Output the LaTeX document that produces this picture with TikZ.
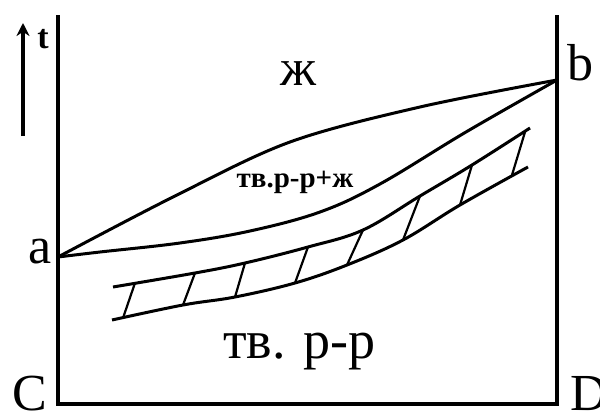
\documentclass[tikz,border=0pt]{standalone}
\usepackage{fontspec}
\setmainfont{Liberation Serif}
\usetikzlibrary{arrows.meta}

\begin{document}
\begin{tikzpicture}[
    x=0.5pt, y=-0.5pt,
    >={Stealth[length=6.5pt, width=6.5pt]},
    frame/.style={line width=2pt},
    curve/.style={line width=1.5pt, line join=round},
    hatch/.style={line width=1.1pt},
    big/.style={font=\fontsize{26}{30}\selectfont, inner sep=0pt, anchor=base},
    small/.style={font=\fontsize{14.5}{17}\selectfont\bfseries, inner sep=0pt, anchor=base}
]
    \useasboundingbox (0,0) rectangle (600,412);

    % Frame of the diagram
    \coordinate (ltop) at (58,15);
    \coordinate (rtop) at (557,15);
    \coordinate (C) at (58,404);
    \coordinate (D) at (557,404);
    \coordinate (a) at (58,257);
    \coordinate (b) at (557,80);
    \draw[frame] (ltop) -- (C) -- (D) -- (rtop);

    % Temperature arrow
    \coordinate (tlow) at (23,136);
    \coordinate (thigh) at (23,23);
    \draw[->, line width=2pt] (tlow) -- (thigh);
    \node[font=\fontsize{17}{20}\selectfont\bfseries, inner sep=0pt, anchor=base west] (tlabel) at (37,48) {t};

    % Liquidus and solidus
    \draw[curve] plot[smooth, tension=0.55] coordinates {(a) (175,196) (290,142) (420,107) (b)};
    \draw[curve] plot[smooth, tension=0.6] coordinates {(a) (100,252) (180,243) (250,231) (320,212) (380,184) (466,132) (b)};

    % Hatched band
    \draw[curve] plot[smooth, tension=0.6] coordinates {(113,287) (195,273) (245,263) (308,247) (363,230) (420,196) (472,165) (530,128)};
    \draw[curve] plot[smooth, tension=0.6] coordinates {(112,320) (183,305) (235,297) (295,283) (347,265) (403,240) (460,205) (528,167)};
    \foreach \xa/\ya/\xb/\yb in {135/283/123/318, 195/273/183/305, 245/263/235/297, 308/247/295/283,
                                 363/230/347/265, 420/196/403/240, 472/165/460/205, 525/132/512/175}
        \draw[hatch] (\xa,\ya) -- (\xb,\yb);

    % Labels
    \node[big] (alabel) at (40,263) {a};
    \node[big] (blabel) at (580,80) {b};
    \node[big] (clabel) at (30,410) {C};
    \node[big, anchor=base west] (dlabel) at (570,410) {D};
    \node[big] (liquid) at (298,85) {ж};
    \node[small] (mix) at (295,187) {тв.р-р+ж};
    \node[big, font=\fontsize{27}{31}\selectfont, anchor=base west] (solid) at (223,358) {тв. р-р};
\end{tikzpicture}
\end{document}
